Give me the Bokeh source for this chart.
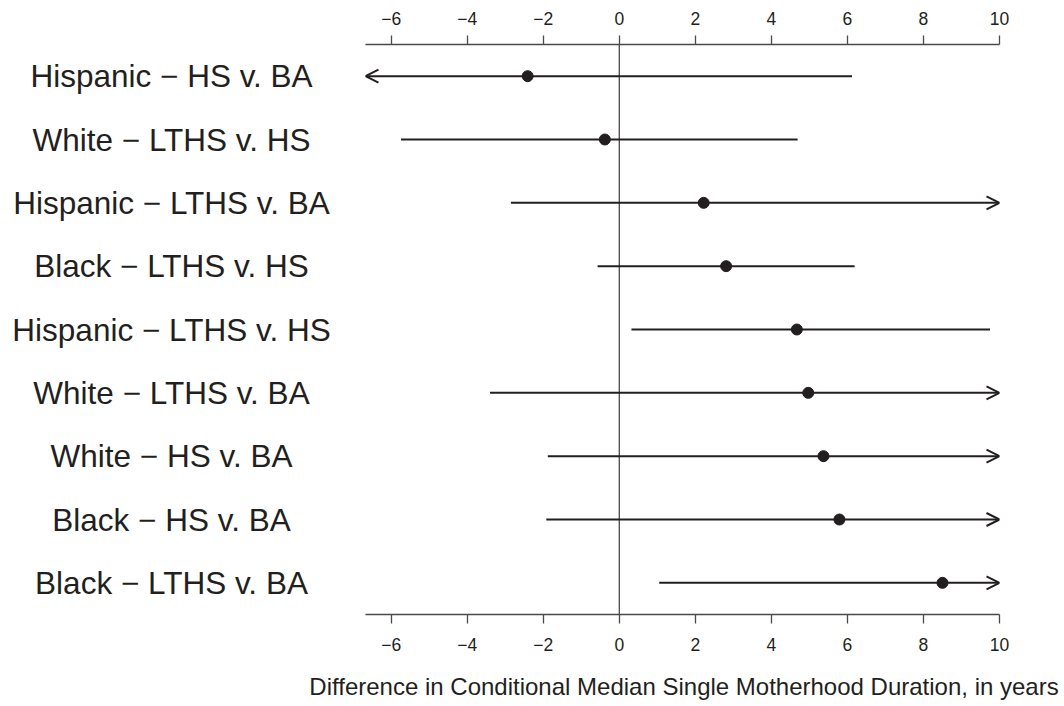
from bokeh.plotting import figure
from bokeh.layouts import row, column
from bokeh.models import (Arrow, OpenHead, LinearAxis, FixedTicker,
                          Range1d, ColumnDataSource, Span)
from bokeh.core.properties import value
from bokeh.embed import file_html
from bokeh.resources import INLINE

# ---- data (top row first) ----
categories = ["Hispanic \u2212 HS v. BA", "White \u2212 LTHS v. HS",
              "Hispanic \u2212 LTHS v. BA", "Black \u2212 LTHS v. HS",
              "Hispanic \u2212 LTHS v. HS", "White \u2212 LTHS v. BA",
              "White \u2212 HS v. BA", "Black \u2212 HS v. BA",
              "Black \u2212 LTHS v. BA"]
estimate = [-2.41, -0.38, 2.22, 2.81, 4.67, 4.97, 5.37, 5.79, 8.50]
# None = interval extends beyond the plotted range (drawn as an arrow)
lower = [None, -5.74, -2.85, -0.57, 0.32, -3.40, -1.88, -1.92, 1.05]
upper = [6.12, 4.69, None, 6.19, 9.75, None, None, None, None]
tick_values = [-6, -4, -2, 0, 2, 4, 6, 8, 10]
x_label = "Difference in Conditional Median Single Motherhood Duration, in years"

XMIN, XMAX = -6.675, 10.0
n = len(categories)
ypos = [n - i for i in range(n)]

INK = "#231f20"
AX = "#4a4a4a"
FONT = "Liberation Sans"
W, H = 1064, 706
LEFT_W = 365
LABEL_H = 40
TOP, BOTTOM = 44, 92 - LABEL_H
MAIN_H = H - LABEL_H

yr = Range1d(0.5, n + 0.5)


def clean(f):
    f.outline_line_color = None
    f.xgrid.visible = False
    f.ygrid.visible = False
    f.border_fill_color = "white"
    f.background_fill_color = "white"


# ---- left panel with the row labels ----
lab = figure(width=LEFT_W, height=MAIN_H, output_backend="svg", toolbar_location=None,
             x_range=Range1d(0, LEFT_W), y_range=yr,
             x_axis_location=None, y_axis_location=None,
             min_border_left=0, min_border_right=0,
             min_border_top=TOP, min_border_bottom=BOTTOM)
clean(lab)
lsrc = ColumnDataSource(dict(x=[171] * n, y=ypos, t=categories))
lab.text("x", "y", text="t", source=lsrc, text_align="center",
         text_baseline="middle", text_font=value(FONT),
         text_font_size="31.5px", text_color=INK)

# ---- main panel ----
p = figure(width=W - LEFT_W, height=MAIN_H, output_backend="svg", toolbar_location=None,
           x_range=Range1d(XMIN, XMAX), y_range=yr,
           x_axis_location=None, y_axis_location=None,
           min_border_left=0, min_border_right=65,
           min_border_top=TOP, min_border_bottom=BOTTOM)
clean(p)

for loc in ("above", "below"):
    ax = LinearAxis(ticker=FixedTicker(ticks=tick_values))
    ax.axis_line_color = AX
    ax.axis_line_width = 1.3
    ax.major_tick_line_color = AX
    ax.major_tick_line_width = 1.3
    ax.major_tick_out = 9
    ax.major_tick_in = 0
    ax.minor_tick_line_color = None
    ax.major_label_text_font = FONT
    ax.major_label_text_font_size = "17.5px"
    ax.major_label_text_color = INK
    ax.major_label_overrides = {v: (str(v).replace("-", "\u2212")) for v in tick_values}
    ax.major_label_standoff = 11 if loc == "above" else 14
    p.add_layout(ax, loc)

p.add_layout(Span(location=0, dimension="height", line_color=AX, line_width=1.3))

# intervals
for y, lo, hi in zip(ypos, lower, upper):
    x0 = XMIN if lo is None else lo
    x1 = XMAX if hi is None else hi
    start = OpenHead(size=13, line_color=INK, line_width=2) if lo is None else None
    end = OpenHead(size=13, line_color=INK, line_width=2) if hi is None else None
    p.add_layout(Arrow(x_start=x0, y_start=y, x_end=x1, y_end=y,
                       start=start, end=end, line_color=INK, line_width=2))

src = ColumnDataSource(dict(x=estimate, y=ypos))
p.scatter("x", "y", source=src, size=11, fill_color=INK, line_color=INK)

# ---- x-axis title strip ----
xt = figure(width=W, height=LABEL_H, output_backend="svg", toolbar_location=None,
            x_range=Range1d(0, W), y_range=Range1d(0, LABEL_H),
            x_axis_location=None, y_axis_location=None,
            min_border_left=0, min_border_right=0,
            min_border_top=0, min_border_bottom=0)
clean(xt)
xt.text(x=[683.5], y=[LABEL_H - 20], text=[x_label], text_align="center",
        text_baseline="middle", text_font=value(FONT),
        text_font_size="24px", text_color=INK)

layout = column(row(lab, p, spacing=0), xt, spacing=0)
open("out.html", "w").write(file_html(layout, INLINE))
